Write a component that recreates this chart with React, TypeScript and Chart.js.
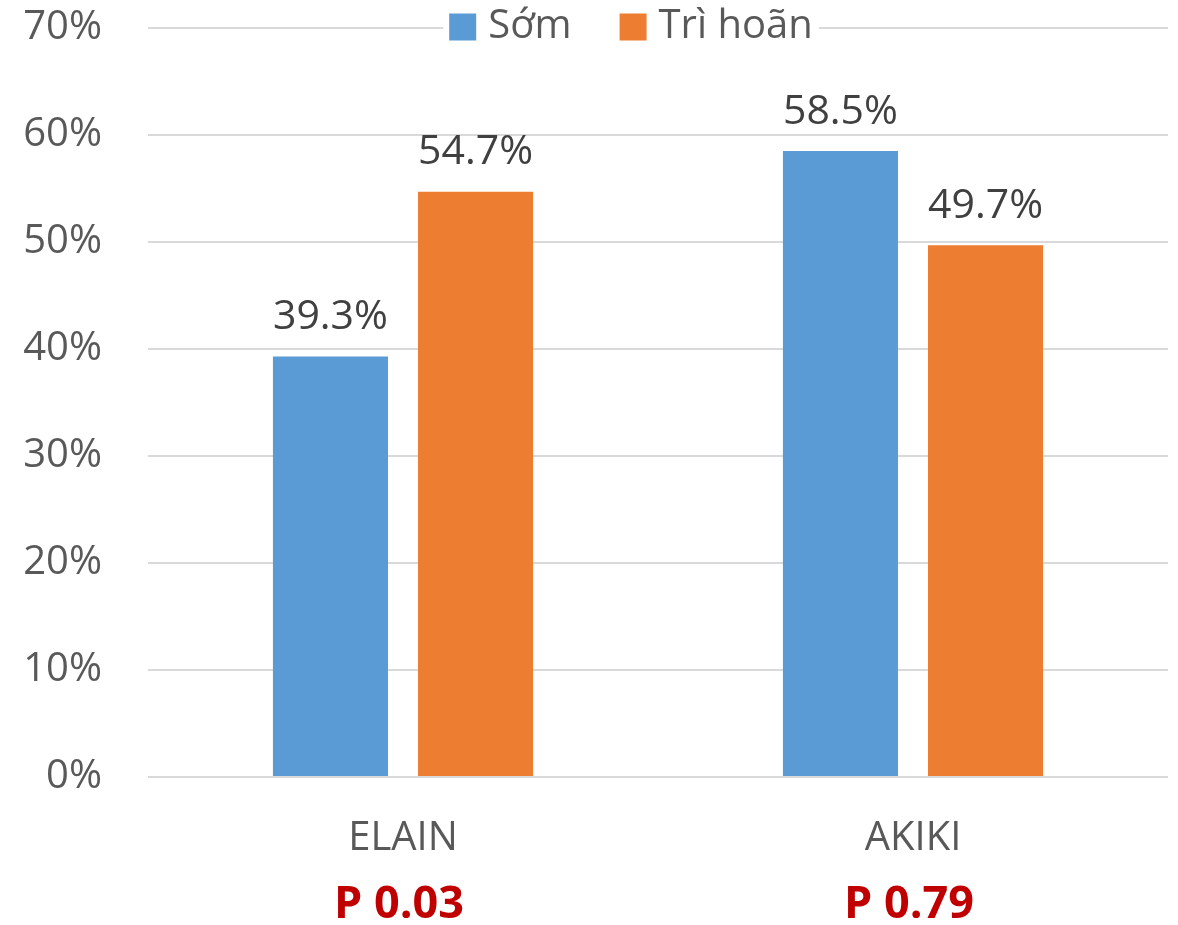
import React, { useEffect, useRef } from "react";
import { Chart, registerables } from "chart.js";

Chart.register(...registerables);

const categories = ["ELAIN", "AKIKI"];
const pValues = ["P 0.03", "P 0.79"];
const seriesNames = ["Sớm", "Trì hoãn"];
const earlyValues = [39.3, 58.5];
const delayedValues = [54.7, 49.7];
const seriesColors = ["#5B9BD5", "#ED7D31"];

const FONT = "'Open Sans', 'DejaVu Sans', sans-serif";
const TEXT = "#595959";

const valueLabels = {
  id: "valueLabels",
  afterDatasetsDraw(chart: any) {
    const ctx = chart.ctx;
    ctx.save();
    ctx.font = `41px ${FONT}`;
    ctx.fillStyle = "#404040";
    ctx.textAlign = "center";
    ctx.textBaseline = "middle";
    chart.data.datasets.forEach((ds: any, i: number) => {
      const meta = chart.getDatasetMeta(i);
      meta.data.forEach((bar: any, j: number) => {
        ctx.fillText(ds.data[j].toFixed(1) + "%", bar.x, bar.y - 39);
      });
    });
    ctx.restore();
  },
};

const pLabels = {
  id: "pLabels",
  afterDraw(chart: any) {
    const ctx = chart.ctx;
    const x = chart.scales.x;
    ctx.save();
    ctx.font = `bold 45px ${FONT}`;
    ctx.fillStyle = "#C00000";
    ctx.textAlign = "center";
    ctx.textBaseline = "middle";
    pValues.forEach((p, i) => {
      ctx.fillText(p, x.getPixelForValue(i) - 4, 905);
    });
    ctx.restore();
  },
};

const topLegend = {
  id: "topLegend",
  afterDraw(chart: any) {
    const ctx = chart.ctx;
    ctx.save();
    ctx.font = `40px ${FONT}`;
    ctx.textBaseline = "middle";
    const box = 27;
    const gapIn = 12;
    const gapOut = 48;
    const widths = seriesNames.map((n) => ctx.measureText(n).width);
    const total = widths.reduce((a, w) => a + box + gapIn + w, 0) + gapOut;
    let x = 631 - total / 2;
    const cy = 27;
    ctx.fillStyle = "#ffffff";
    ctx.fillRect(x - 6, 4, total + 12, 46);
    seriesNames.forEach((n, i) => {
      ctx.fillStyle = seriesColors[i];
      ctx.fillRect(x, cy - box / 2, box, box);
      x += box + gapIn;
      ctx.fillStyle = TEXT;
      ctx.fillText(n, x, cy);
      x += widths[i] + gapOut;
    });
    ctx.restore();
  },
};

export default function App() {
  const ref = useRef<HTMLCanvasElement>(null);

  useEffect(() => {
    document.body.style.margin = "0";
    const chart = new Chart(ref.current!, {
      type: "bar",
      data: {
        labels: categories,
        datasets: [
          {
            label: seriesNames[0],
            data: earlyValues,
            backgroundColor: seriesColors[0],
            categoryPercentage: 0.569,
            barPercentage: 0.793,
          },
          {
            label: seriesNames[1],
            data: delayedValues,
            backgroundColor: seriesColors[1],
            categoryPercentage: 0.569,
            barPercentage: 0.793,
          },
        ],
      },
      options: {
        responsive: false,
        animation: false,
        layout: { padding: { top: 28, right: 10, left: 0, bottom: 0 } },
        plugins: {
          legend: { display: false },
          tooltip: { enabled: false },
        },
        scales: {
          x: {
            grid: { display: false },
            border: { display: false },
            ticks: {
              color: TEXT,
              font: { family: FONT, size: 40 },
              padding: 30,
            },
            afterFit(scale: any) {
              scale.height = 148;
              scale.paddingLeft = 0;
              scale.paddingRight = 0;
            },
          },
          y: {
            min: 0,
            max: 70,
            ticks: {
              stepSize: 10,
              color: TEXT,
              font: { family: FONT, size: 40 },
              padding: 46,
              callback: (v: any) => v + "%",
            },
            grid: { color: "#d9d9d9", lineWidth: 2, drawTicks: false },
            border: { display: false },
            afterFit(scale: any) {
              scale.width = 148;
              scale.paddingTop = 0;
              scale.paddingBottom = 0;
            },
          },
        },
      },
      plugins: [valueLabels, pLabels, topLegend],
    });
    return () => chart.destroy();
  }, []);

  return (
    <div style={{ width: 1178, height: 925, background: "#fff" }}>
      <canvas ref={ref} width={1178} height={925} />
    </div>
  );
}
